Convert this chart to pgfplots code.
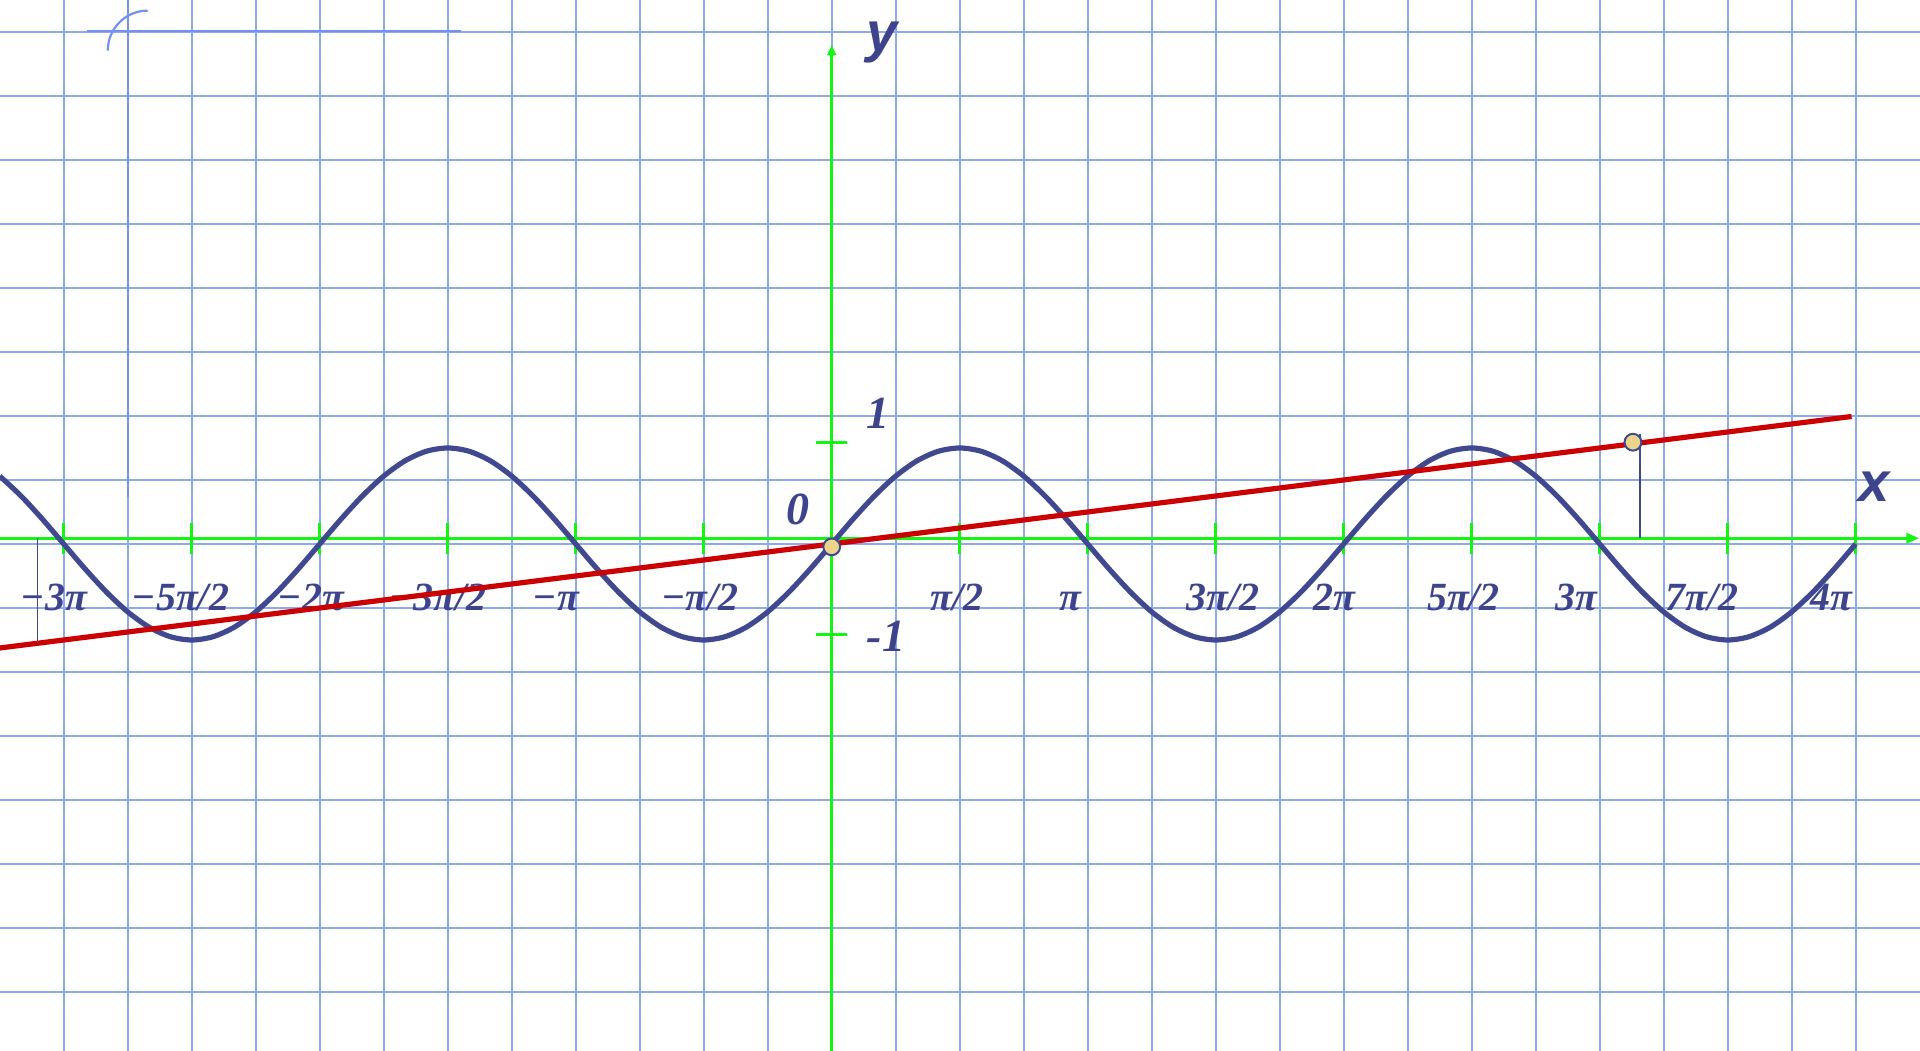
\documentclass[border=0pt]{standalone}
\usepackage{pgfplots}
\pgfplotsset{compat=1.18}
\usepackage{fontspec}
\setmainfont{Liberation Serif}
\newfontfamily\axisfont{Liberation Sans}
\usetikzlibrary{arrows.meta}

\definecolor{gridblue}{RGB}{142,168,248}
\definecolor{griddark}{RGB}{118,144,240}
\definecolor{curvenavy}{RGB}{64,72,144}
\definecolor{textnavy}{RGB}{62,68,140}
\definecolor{linered}{RGB}{204,0,0}
\definecolor{axisgreen}{RGB}{20,245,20}
\definecolor{dotfill}{RGB}{236,212,138}

\tikzset{
  lab/.style={font=\fontsize{10}{12}\selectfont\bfseries\itshape, text=textnavy, anchor=base, inner sep=0pt},
  num/.style={font=\fontsize{11.5}{13}\selectfont\bfseries\itshape, text=textnavy, anchor=base, inner sep=0pt},
  var/.style={font=\axisfont\fontsize{14}{16}\selectfont\bfseries\itshape, text=textnavy, anchor=base, inner sep=0pt},
}

% x is measured in units of pi, y in plain units
\begin{document}
\begin{tikzpicture}
\begin{axis}[
    width=480pt, height=262.75pt, scale only axis,
    xmin=-3.2489, xmax=4.2512,
    ymin=-5.2813, ymax=5.6667,
    axis line style={draw=none},
    tick style={draw=none},
    major tick length=0pt,
    xtick={-3,-2.75,-2.5,-2.25,-2,-1.75,-1.5,-1.25,-1,-0.75,-0.5,-0.25,0,0.25,0.5,0.75,1,1.25,1.5,1.75,2,2.25,2.5,2.75,3,3.25,3.5,3.75,4},
    ytick={-4.6667,-4,-3.3333,-2.6667,-2,-1.3333,-0.6667,0,0.6667,1.3333,2,2.6667,3.3333,4,4.6667,5.3333},
    xticklabels={}, yticklabels={},
    grid=major,
    grid style={draw=gridblue, line width=0.5pt},
    clip=true,
]
% stray marks in the upper left
\draw[griddark, line width=0.5pt] (axis cs:-2.75,0.49) -- (axis cs:-2.75,5.7);
\draw[griddark, line width=0.55pt] (axis cs:-2.908,5.344) -- (axis cs:-1.448,5.344);
\draw[griddark, line width=0.55pt] (axis cs:-2.828,5.139) arc[start angle=180, end angle=90, radius=10pt];

% green axes
\draw[axisgreen, line width=0.65pt, -{Triangle[length=3.2pt,width=2.6pt]}]
  (axis cs:-3.3,0.06) -- (axis cs:4.2477,0.06);
\draw[axisgreen, line width=0.65pt, -{Triangle[length=2.6pt,width=2.2pt]}]
  (axis cs:0,-5.4) -- (axis cs:0,5.198);
\pgfplotsinvokeforeach{-3,-2.5,-2,-1.5,-1,-0.5,0.5,1,1.5,2,2.5,3,3.5,4}{
  \draw[axisgreen, line width=0.65pt] (axis cs:#1,-0.104) -- (axis cs:#1,0.222);
}
\draw[axisgreen, line width=0.65pt] (axis cs:-0.0615,1.059) -- (axis cs:0.0615,1.059);
\draw[axisgreen, line width=0.65pt] (axis cs:-0.0615,-0.941) -- (axis cs:0.0615,-0.941);

% labels
\node[lab] at (axis cs:-3.038,-0.698) {−3π};
\node[lab] at (axis cs:-2.544,-0.698) {−5π/2};
\node[lab] at (axis cs:-2.034,-0.698) {−2π};
\node[lab] at (axis cs:-1.539,-0.698) {−3π/2};
\node[lab] at (axis cs:-1.077,-0.698) {−π};
\node[lab] at (axis cs:-0.516,-0.698) {−π/2};
\node[lab] at (axis cs:0.489,-0.698) {π/2};
\node[lab] at (axis cs:0.933,-0.698) {π};
\node[lab] at (axis cs:1.528,-0.698) {3π/2};
\node[lab] at (axis cs:1.964,-0.698) {2π};
\node[lab] at (axis cs:2.468,-0.698) {5π/2};
\node[lab] at (axis cs:2.910,-0.698) {3π};
\node[lab] at (axis cs:3.400,-0.698) {7π/2};
\node[lab] at (axis cs:3.907,-0.698) {4π};
\node[num] at (axis cs:0.1805,1.208) {1};
\node[num] at (axis cs:-0.132,0.198) {0};
\node[num] at (axis cs:0.212,-1.125) {-1};
\node[var] at (axis cs:0.196,5.125) {y};
\node[var] at (axis cs:4.071,0.4375) {x};

% y = sin x
\addplot[curvenavy, line width=1.3pt, smooth] coordinates {
(-3.25,0.7071) (-3.1667,0.5) (-3.0833,0.2588) (-3,0) (-2.9167,-0.2588) (-2.8333,-0.5)
(-2.75,-0.7071) (-2.6667,-0.866) (-2.5833,-0.9659) (-2.5,-1) (-2.4167,-0.9659) (-2.3333,-0.866)
(-2.25,-0.7071) (-2.1667,-0.5) (-2.0833,-0.2588) (-2,0) (-1.9167,0.2588) (-1.8333,0.5)
(-1.75,0.7071) (-1.6667,0.866) (-1.5833,0.9659) (-1.5,1) (-1.4167,0.9659) (-1.3333,0.866)
(-1.25,0.7071) (-1.1667,0.5) (-1.0833,0.2588) (-1,0) (-0.9167,-0.2588) (-0.8333,-0.5)
(-0.75,-0.7071) (-0.6667,-0.866) (-0.5833,-0.9659) (-0.5,-1) (-0.4167,-0.9659) (-0.3333,-0.866)
(-0.25,-0.7071) (-0.1667,-0.5) (-0.0833,-0.2588) (0,0) (0.0833,0.2588) (0.1667,0.5)
(0.25,0.7071) (0.3333,0.866) (0.4167,0.9659) (0.5,1) (0.5833,0.9659) (0.6667,0.866)
(0.75,0.7071) (0.8333,0.5) (0.9167,0.2588) (1,0) (1.0833,-0.2588) (1.1667,-0.5)
(1.25,-0.7071) (1.3333,-0.866) (1.4167,-0.9659) (1.5,-1) (1.5833,-0.9659) (1.6667,-0.866)
(1.75,-0.7071) (1.8333,-0.5) (1.9167,-0.2588) (2,0) (2.0833,0.2588) (2.1667,0.5)
(2.25,0.7071) (2.3333,0.866) (2.4167,0.9659) (2.5,1) (2.5833,0.9659) (2.6667,0.866)
(2.75,0.7071) (2.8333,0.5) (2.9167,0.2588) (3,0) (3.0833,-0.2588) (3.1667,-0.5)
(3.25,-0.7071) (3.3333,-0.866) (3.4167,-0.9659) (3.5,-1) (3.5833,-0.9659) (3.6667,-0.866)
(3.75,-0.7071) (3.8333,-0.5) (3.9167,-0.2588) (4,0)
};

% straight line through the origin
\addplot[linered, line width=1.3pt] coordinates {(-3.3,-1.1) (3.984,1.328)};

% thin verticals
\addplot[curvenavy, line width=0.4pt] coordinates {(-3.103,0.06) (-3.103,-1.034)};
\addplot[curvenavy, line width=0.4pt] coordinates {(3.157,0.06) (3.157,1.15)};

% points
\addplot[only marks, mark=*, mark size=2.1pt,
  mark options={fill=dotfill, draw=curvenavy, line width=0.5pt}]
  coordinates {(0,-0.03) (3.13,1.06)};
\end{axis}
\pgfresetboundingbox
\path[use as bounding box] (0,0) rectangle (480pt,262.75pt);
\end{tikzpicture}
\end{document}
